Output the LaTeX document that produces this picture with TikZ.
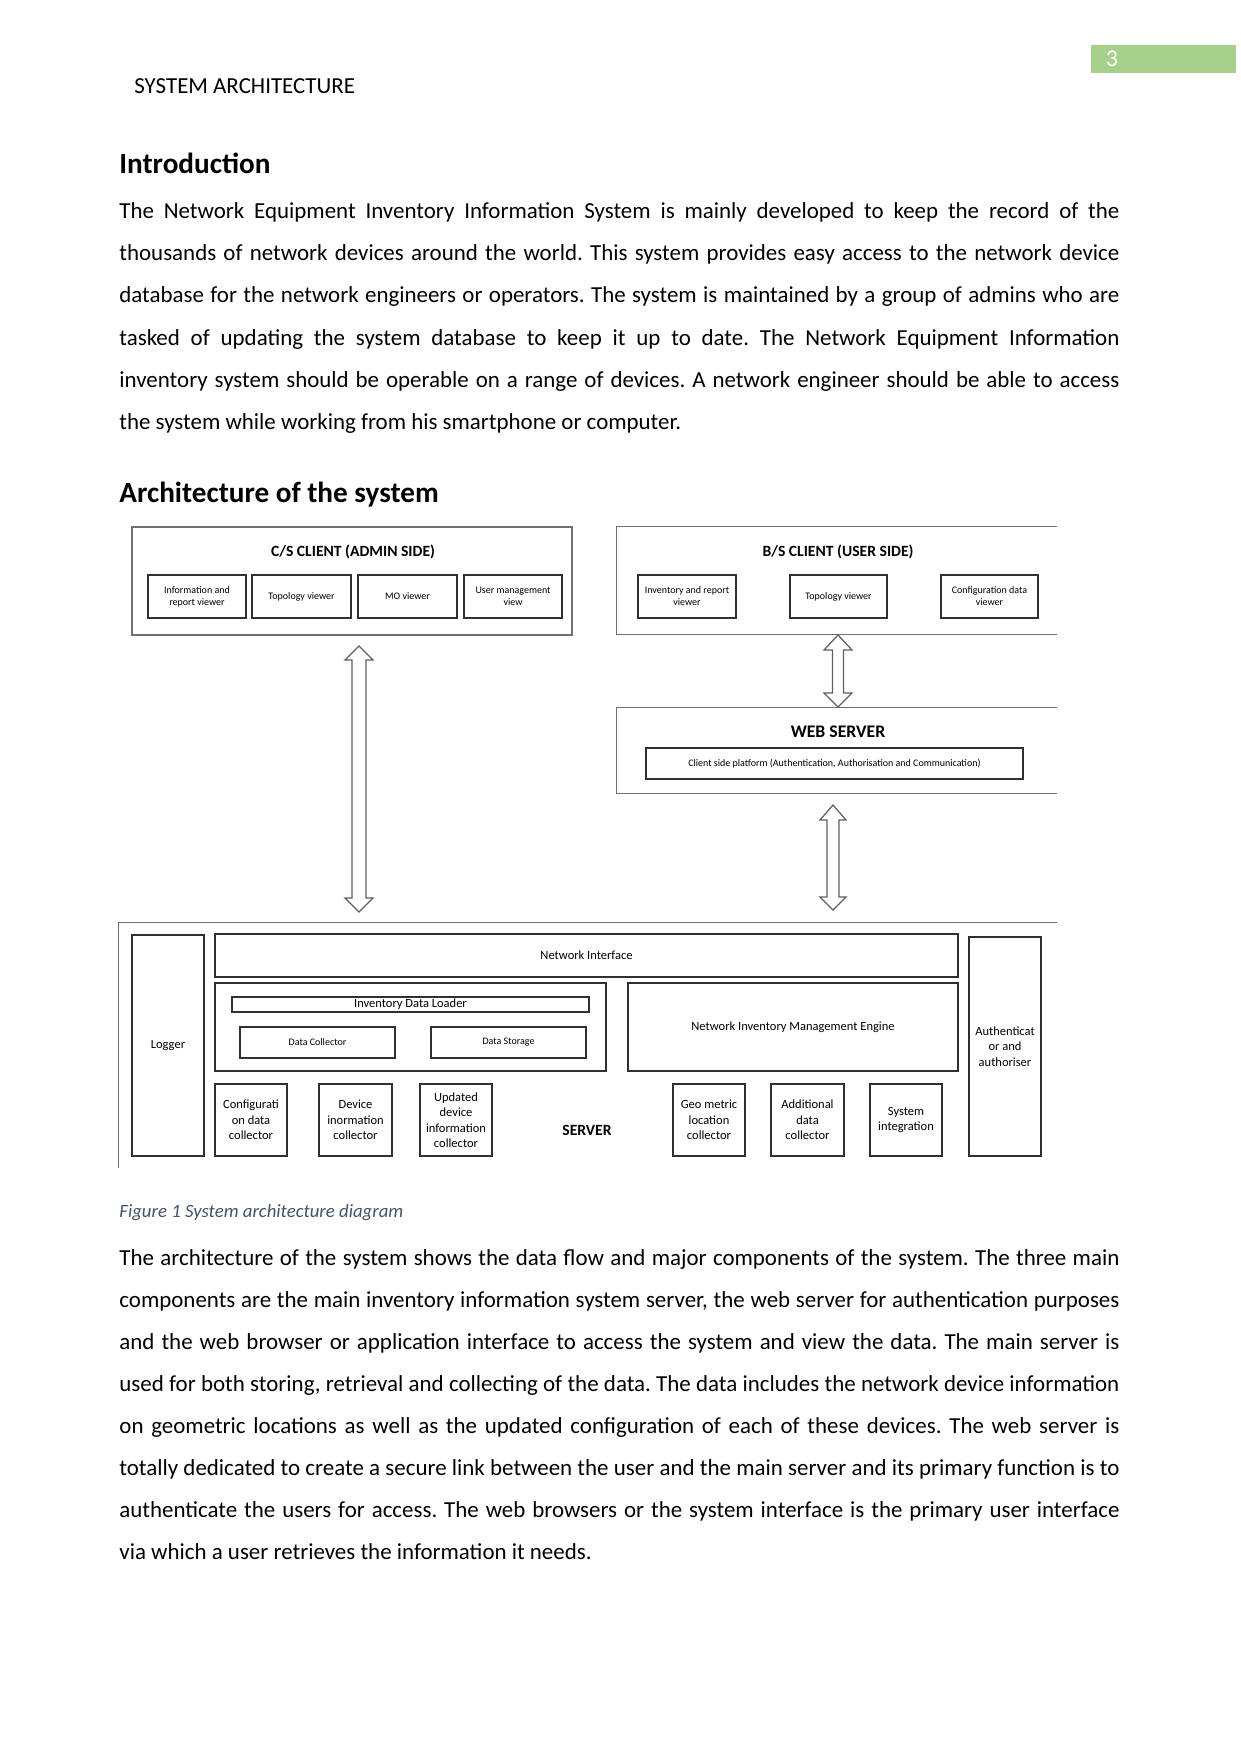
\documentclass[tikz,border=0pt]{standalone}
\usepackage{fontspec}
\setmainfont{Carlito}
\frenchspacing
\definecolor{outerline}{HTML}{707070}
\definecolor{innerline}{HTML}{303030}
\definecolor{arrline}{HTML}{606060}
\definecolor{pagegreen}{HTML}{A8D08D}
\definecolor{captioncol}{HTML}{44546A}
\newcommand\bx[7]{\node[#1,minimum width={(#5-#3)*0.4797pt},minimum height={(#6-#4)*0.4797pt}] (#2) at ({(#3+#5)/2},{(#4+#6)/2}) {#7};}
\newcommand\dbla[7]{\draw[arrstyle] (#1,#2) -- (#1+#6,#3) -- (#1+#7,#3) -- (#1+#7,#4) -- (#1+#6,#4) -- (#1,#5) -- (#1-#6,#4) -- (#1-#7,#4) -- (#1-#7,#3) -- (#1-#6,#3) -- cycle;}
\newcommand\jline[1]{\makebox[479.7pt][s]{#1}}
\begin{document}
\begin{tikzpicture}[x=0.4797pt,y=-0.4797pt,
  bodyline/.style={anchor=base west,inner sep=0pt,font=\fontsize{11}{13}\selectfont},
  headline/.style={anchor=base west,inner sep=0pt,font=\fontsize{14}{16}\selectfont\bfseries},
  outerbox/.style={draw=outerline,line width=0.7pt,inner sep=0pt},
  openbox/.style={inner sep=0pt},
  tinybox/.style={draw=innerline,line width=0.6pt,inner sep=0pt,align=center,font=\fontsize{4.8}{5.8}\selectfont},
  smallbox/.style={draw=innerline,line width=0.6pt,inner sep=0pt,align=center,font=\fontsize{6}{7.4}\selectfont},
  titletext/.style={inner sep=0pt,font=\fontsize{7.5}{9}\selectfont\bfseries},
  arrstyle/.style={draw=arrline,line width=0.6pt,fill=white,line join=miter}]
\useasboundingbox (0,0) rectangle (1241,1754);
\fill[white] (0,0) rectangle (1241,1754);

% page header
\fill[pagegreen] (1091,45) rectangle (1236,73);
\node[anchor=base,inner sep=0pt,text=white,font=\fontsize{11.5}{13}\selectfont] (pnum) at (1112,67) {3};
\node[bodyline] (hdr) at (134,93) {SYSTEM ARCHITECTURE};

% Introduction
\node[headline] (h1) at (119,173.5) {Introduction};
\node[bodyline] (p1l1) at (119,218.7) {\jline{The Network Equipment Inventory Information System is mainly developed to keep the record of the}};
\node[bodyline] (p1l2) at (119,260.8) {\jline{thousands of network devices around the world. This system provides easy access to the network device}};
\node[bodyline] (p1l3) at (119,302.9) {\jline{database for the network engineers or operators. The system is maintained by a group of admins who are}};
\node[bodyline] (p1l4) at (119,345) {\jline{tasked of updating the system database to keep it up to date. The Network Equipment Information}};
\node[bodyline] (p1l5) at (119,387.1) {\jline{inventory system should be operable on a range of devices. A network engineer should be able to access}};
\node[bodyline] (p1l6) at (119,429.2) {the system while working from his smartphone or computer.};

\node[headline] (h2) at (119,502.5) {Architecture of the system};

% ---------------- diagram ----------------
% C/S client
\bx{outerbox}{cs}{132}{527}{572}{635}{}
\node[titletext] (cst) at (353,552) {C/S CLIENT (ADMIN SIDE)};
\bx{tinybox}{cs1}{148}{575}{246}{618}{Information and\\report viewer}
\bx{tinybox}{cs2}{252}{575}{351}{618}{Topology viewer}
\bx{tinybox}{cs3}{358}{575}{457}{618}{MO viewer}
\bx{tinybox}{cs4}{464}{575}{562}{618}{User management\\view}

% B/S client
\bx{openbox}{bs}{617}{527}{1057}{634}{}
\draw[outerline,line width=0.7pt] (bs.north east) -- (bs.north west) -- (bs.south west) -- (bs.south east);
\node[titletext] (bst) at (838,552) {B/S CLIENT (USER SIDE)};
\bx{tinybox}{bs1}{638}{575}{736}{618}{Inventory and report\\viewer}
\bx{tinybox}{bs2}{790}{575}{887}{618}{Topology viewer}
\bx{tinybox}{bs3}{941}{575}{1038}{618}{Configuration data\\viewer}

% Web server
\bx{openbox}{ws}{617}{708}{1057}{793}{}
\draw[outerline,line width=0.7pt] (ws.north east) -- (ws.north west) -- (ws.south west) -- (ws.south east);
\node[inner sep=0pt,font=\fontsize{8.5}{10}\selectfont\bfseries] (wst) at (838,732) {WEB SERVER};
\bx{tinybox}{wsp}{646}{748}{1023}{779}{Client side platform (Authentication, Authorisation and Communication)}

% arrows
\dbla{359}{646}{660}{898}{912}{14}{7}
\dbla{838}{635}{650}{693}{707}{14}{5.5}
\dbla{833}{805}{820}{897}{910}{13}{6}

% Server
\bx{openbox}{srv}{119}{923}{1057}{1168}{}
\draw[outerline,line width=0.7pt] (srv.north east) -- (srv.north west) -- (srv.south west);
\bx{smallbox}{log}{132}{935}{204}{1156}{Logger}
\bx{smallbox}{nif}{215}{934}{958}{977}{Network Interface}
\bx{smallbox}{inv}{215}{983}{606}{1071}{}
\bx{smallbox}{idl}{232}{997}{589}{1012}{Inventory Data Loader}
\bx{tinybox}{dc}{240}{1027}{395}{1058}{Data Collector}
\bx{tinybox}{ds}{431}{1027}{586}{1058}{Data Storage}
\bx{smallbox}{nime}{628}{983}{958}{1071}{Network Inventory Management Engine}
\bx{smallbox}{auth}{969}{937}{1041}{1156}{Authenticat\\or and\\authoriser}
\bx{smallbox}{conf}{215}{1084}{287}{1156}{Configurati\\on data\\collector}
\bx{smallbox}{dev}{319}{1084}{392}{1156}{Device\\inormation\\collector}
\bx{smallbox}{upd}{420}{1084}{492}{1156}{Updated\\device\\information\\collector}
\bx{smallbox}{geo}{673}{1084}{745}{1156}{Geo metric\\location\\collector}
\bx{smallbox}{add}{771}{1084}{844}{1156}{Additional\\data\\collector}
\bx{smallbox}{sys}{870}{1084}{942}{1156}{System\\integration}
\node[titletext] (srvt) at (587,1130) {SERVER};

% caption
\node[anchor=base west,inner sep=0pt,text=captioncol,font=\fontsize{9}{11}\selectfont\itshape] (cap) at (119,1217) {Figure 1 System architecture diagram};

% second paragraph
\node[bodyline] (p2l1) at (119,1265) {\jline{The architecture of the system shows the data flow and major components of the system. The three main}};
\node[bodyline] (p2l2) at (119,1307.1) {\jline{components are the main inventory information system server, the web server for authentication purposes}};
\node[bodyline] (p2l3) at (119,1349.2) {\jline{and the web browser or application interface to access the system and view the data. The main server is}};
\node[bodyline] (p2l4) at (119,1391.3) {\jline{used for both storing, retrieval and collecting of the data. The data includes the network device information}};
\node[bodyline] (p2l5) at (119,1433.4) {\jline{on geometric locations as well as the updated configuration of each of these devices. The web server is}};
\node[bodyline] (p2l6) at (119,1475.5) {\jline{totally dedicated to create a secure link between the user and the main server and its primary function is to}};
\node[bodyline] (p2l7) at (119,1517.6) {\jline{authenticate the users for access. The web browsers or the system interface is the primary user interface}};
\node[bodyline] (p2l8) at (119,1559.7) {via which a user retrieves the information it needs.};
\end{tikzpicture}
\end{document}
